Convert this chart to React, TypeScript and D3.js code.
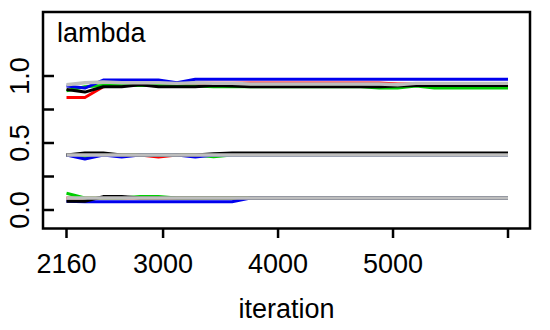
import React from "react";
import * as d3 from "d3";

const iterations = [2160, 2320, 2480, 2640, 2800, 2960, 3120, 3280, 3440, 3600, 3760, 3920, 4080, 4240, 4400, 4560, 4720, 4880, 5040, 5200, 5360, 5520, 5680, 5840, 6000];

// upper parameter group
const upRed = [0.84, 0.84, 0.92, 0.935, 0.945, 0.945, 0.945, 0.945, 0.945, 0.945, 0.948, 0.948, 0.948, 0.948, 0.948, 0.948, 0.948, 0.948, 0.94, 0.94, 0.94, 0.94, 0.94, 0.94, 0.94];
const upGreen = [0.89, 0.92, 0.93, 0.93, 0.93, 0.93, 0.925, 0.925, 0.92, 0.92, 0.92, 0.92, 0.92, 0.92, 0.92, 0.92, 0.92, 0.91, 0.91, 0.925, 0.91, 0.91, 0.91, 0.91, 0.91];
const upBlue = [0.925, 0.91, 0.97, 0.97, 0.97, 0.97, 0.95, 0.975, 0.975, 0.975, 0.975, 0.975, 0.975, 0.975, 0.975, 0.975, 0.975, 0.975, 0.975, 0.975, 0.975, 0.975, 0.975, 0.975, 0.975];
const upBlack = [0.9, 0.88, 0.92, 0.92, 0.935, 0.92, 0.92, 0.92, 0.93, 0.925, 0.92, 0.92, 0.92, 0.92, 0.92, 0.92, 0.92, 0.92, 0.925, 0.93, 0.93, 0.93, 0.93, 0.93, 0.93];
const upGray = [0.935, 0.95, 0.955, 0.95, 0.95, 0.95, 0.945, 0.95, 0.945, 0.945, 0.94, 0.94, 0.94, 0.94, 0.94, 0.94, 0.94, 0.94, 0.935, 0.945, 0.945, 0.945, 0.945, 0.945, 0.945];

// middle parameter group
const midRed = [0.41, 0.41, 0.41, 0.41, 0.41, 0.395, 0.41, 0.41, 0.41, 0.41, 0.41, 0.41, 0.41, 0.41, 0.41, 0.41, 0.41, 0.41, 0.41, 0.41, 0.41, 0.41, 0.41, 0.41, 0.41];
const midGreen = [0.41, 0.4, 0.41, 0.41, 0.41, 0.41, 0.41, 0.41, 0.398, 0.41, 0.41, 0.41, 0.41, 0.41, 0.41, 0.41, 0.41, 0.41, 0.41, 0.41, 0.41, 0.41, 0.41, 0.41, 0.41];
const midBlue = [0.41, 0.38, 0.41, 0.395, 0.41, 0.41, 0.41, 0.395, 0.41, 0.41, 0.41, 0.41, 0.41, 0.41, 0.41, 0.41, 0.41, 0.41, 0.41, 0.41, 0.41, 0.41, 0.41, 0.41, 0.41];
const midBlack = [0.41, 0.425, 0.425, 0.41, 0.41, 0.41, 0.41, 0.41, 0.42, 0.425, 0.425, 0.425, 0.425, 0.425, 0.425, 0.425, 0.425, 0.425, 0.425, 0.425, 0.425, 0.425, 0.425, 0.425, 0.425];
const midGray = [0.41, 0.41, 0.41, 0.41, 0.41, 0.41, 0.41, 0.41, 0.41, 0.41, 0.41, 0.41, 0.41, 0.41, 0.41, 0.41, 0.41, 0.41, 0.41, 0.41, 0.41, 0.41, 0.41, 0.41, 0.41];

// lower parameter group
const lowRed = [0.09, 0.09, 0.09, 0.09, 0.09, 0.09, 0.09, 0.09, 0.09, 0.09, 0.09, 0.09, 0.09, 0.09, 0.09, 0.09, 0.09, 0.09, 0.09, 0.09, 0.09, 0.09, 0.09, 0.09, 0.09];
const lowGreen = [0.125, 0.09, 0.09, 0.09, 0.1, 0.1, 0.09, 0.09, 0.09, 0.09, 0.09, 0.09, 0.09, 0.09, 0.09, 0.09, 0.09, 0.09, 0.09, 0.09, 0.09, 0.09, 0.09, 0.09, 0.09];
const lowBlue = [0.065, 0.062, 0.062, 0.062, 0.062, 0.062, 0.062, 0.062, 0.062, 0.062, 0.09, 0.09, 0.09, 0.09, 0.09, 0.09, 0.09, 0.09, 0.09, 0.09, 0.09, 0.09, 0.09, 0.09, 0.09];
const lowBlack = [0.065, 0.065, 0.1, 0.1, 0.09, 0.09, 0.09, 0.09, 0.09, 0.09, 0.09, 0.09, 0.09, 0.09, 0.09, 0.09, 0.09, 0.09, 0.09, 0.09, 0.09, 0.09, 0.09, 0.09, 0.09];
const lowGray = [0.09, 0.09, 0.09, 0.09, 0.09, 0.09, 0.09, 0.09, 0.09, 0.09, 0.09, 0.09, 0.09, 0.09, 0.09, 0.09, 0.09, 0.09, 0.09, 0.09, 0.09, 0.09, 0.09, 0.09, 0.09];

const xTicks = [2160, 3000, 4000, 5000, 6000];
const xTickLabels = ["2160", "3000", "4000", "5000", ""];
const yTicks = [0, 0.25, 0.5, 0.75, 1.0];
const yTickLabels = ["0.0", "", "0.5", "", "1.0"];

const seriesColors = ["#ff0000", "#00cd00", "#0000ee", "#000000", "#bebebe"];
const seriesWidths = [3, 3, 3, 3, 3.4];
const groups = [
  [upRed, upGreen, upBlue, upBlack, upGray],
  [midRed, midGreen, midBlue, midBlack, midGray],
  [lowRed, lowGreen, lowBlue, lowBlack, lowGray],
];

export default function App() {
  const W = 550, H = 330;
  const box = { l: 43, r: 530, t: 12, b: 228.5 };
  const x = d3.scaleLinear().domain([2160, 6000]).range([66.5, 508]);
  const y = d3.scaleLinear().domain([0, 1]).range([210, 76]);
  const line = d3
    .line<number>()
    .x((_, i) => x(iterations[i]))
    .y((d) => y(d));
  const font = "'Liberation Sans', Arial, Helvetica, sans-serif";
  return (
    <svg
      width={W}
      height={H}
      style={{ position: "absolute", left: 0, top: 0, background: "#fff" }}
      fontFamily={font}
    >
      <rect x={0} y={0} width={W} height={H} fill="#fff" />
      {groups.map((g, gi) =>
        g.map((vals, si) => (
          <path
            key={`${gi}-${si}`}
            d={line(vals) || ""}
            fill="none"
            stroke={seriesColors[si]}
            strokeWidth={seriesWidths[si]}
            strokeLinejoin="round"
          />
        ))
      )}
      <rect
        x={box.l}
        y={box.t}
        width={box.r - box.l}
        height={box.b - box.t}
        fill="none"
        stroke="#000"
        strokeWidth={2.5}
      />
      {xTicks.map((t, i) => (
        <g key={`xt${i}`}>
          <line x1={x(t)} x2={x(t)} y1={box.b} y2={238} stroke="#000" strokeWidth={2.5} />
          <text x={x(t)} y={273} fontSize={27} textAnchor="middle" fill="#000">
            {xTickLabels[i]}
          </text>
        </g>
      ))}
      {yTicks.map((t, i) => (
        <g key={`yt${i}`}>
          <line x1={box.l} x2={54} y1={y(t)} y2={y(t)} stroke="#000" strokeWidth={2.5} />
          <text
            transform={`translate(28.5, ${y(t)}) rotate(-90)`}
            fontSize={27}
            textAnchor="middle"
            fill="#000"
          >
            {yTickLabels[i]}
          </text>
        </g>
      ))}
      <text x={57} y={42} fontSize={27} fill="#000">lambda</text>
      <text x={(box.l + box.r) / 2} y={318} fontSize={27} textAnchor="middle" fill="#000">
        iteration
      </text>
    </svg>
  );
}
